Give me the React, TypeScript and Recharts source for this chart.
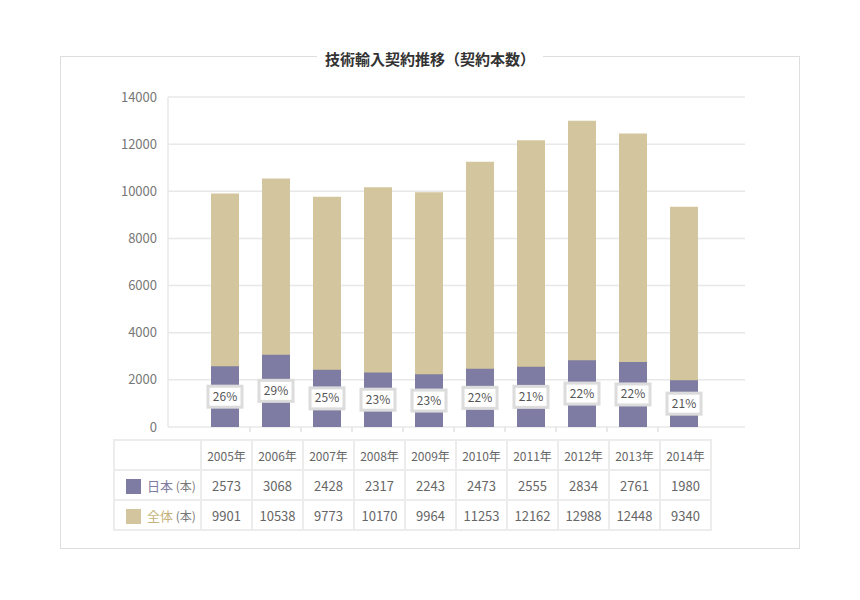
import React from 'react';
import { BarChart, Bar, XAxis, YAxis, CartesianGrid, LabelList } from 'recharts';

const years = ['2005年', '2006年', '2007年', '2008年', '2009年', '2010年', '2011年', '2012年', '2013年', '2014年'];
const japanValues = [2573, 3068, 2428, 2317, 2243, 2473, 2555, 2834, 2761, 1980];
const totalValues = [9901, 10538, 9773, 10170, 9964, 11253, 12162, 12988, 12448, 9340];
const pctLabels = ['26%', '29%', '25%', '23%', '23%', '22%', '21%', '22%', '22%', '21%'];
const yTicks = [0, 2000, 4000, 6000, 8000, 10000, 12000, 14000];

const TITLE = '技術輸入契約推移（契約本数）';
const JAPAN_LABEL = '日本';
const TOTAL_LABEL = '全体';
const UNIT = '(本)';

const PURPLE = '#7e7ca2';
const TAN = '#d3c69e';
const FONT = '"Noto Sans CJK JP", "Noto Sans", sans-serif';

const data = years.map((year, i) => ({
  year,
  japan: japanValues[i],
  total: totalValues[i],
  pct: pctLabels[i],
}));

const PctLabel = (props: any) => {
  const { x, y, width, height, value } = props;
  const cx = x + width / 2;
  const cy = y + height / 2;
  return (
    <g>
      <rect x={cx - 17} y={cy - 10.5} width={34} height={21} fill="#fff" stroke="#dcdcdc" strokeWidth={3} />
      <text x={cx} y={cy + 4} textAnchor="middle" fontSize={12} fill="#555" fontFamily={FONT}>
        {value}
      </text>
    </g>
  );
};

const BoundaryTick = (props: any) => {
  const { x, y, index } = props;
  if (index === 0) return null;
  const step = 51;
  return <line x1={x - step / 2} x2={x - step / 2} y1={y - 8} y2={y - 3} stroke="#e2e2e2" strokeWidth={1.5} />;
};

const cellStyle: React.CSSProperties = {
  border: '2px solid #ececec',
  height: 28,
  padding: 0,
  textAlign: 'center',
  color: '#666',
  fontSize: 12,
  fontFamily: FONT,
  whiteSpace: 'nowrap',
};

export default function App() {
  return (
    <div style={{ position: 'absolute', left: 0, top: 0, width: 860, height: 600, background: '#fff', fontFamily: FONT }}>
      <div
        style={{
          position: 'absolute',
          left: 60,
          top: 56,
          width: 738,
          height: 491,
          border: '1.5px solid #dedede',
        }}
      />
      <div
        style={{
          position: 'absolute',
          left: 0,
          width: 860,
          top: 46,
          textAlign: 'center',
        }}
      >
        <span
          style={{
            background: '#fff',
            padding: '0 8px',
            fontSize: 15,
            fontWeight: 'bold',
            color: '#333',
            lineHeight: '22px',
          }}
        >
          {TITLE}
        </span>
      </div>
      <div style={{ position: 'absolute', left: 0, top: 0 }}>
        <BarChart
          width={860}
          height={600}
          data={data}
          margin={{ top: 97, right: 115, bottom: 153, left: 108 }}
          barSize={28}
        >
          <CartesianGrid vertical={false} stroke="#e8e8e8" strokeWidth={1.5} yAxisId="left" xAxisId="a" />
          <XAxis
            xAxisId="a"
            dataKey="year"
            padding={{ left: 31, right: 36 }}
            axisLine={false}
            tickLine={false}
            tick={<BoundaryTick />}
            height={20}
            interval={0}
          />
          <XAxis xAxisId="b" dataKey="year" padding={{ left: 31, right: 36 }} hide />
          <YAxis
            yAxisId="left"
            domain={[0, 14000]}
            ticks={yTicks}
            width={60}
            axisLine={{ stroke: '#e8e8e8', strokeWidth: 1.5 }}
            tickLine={false}
            tickMargin={5}
            tick={{ fontSize: 13, fill: '#777', fontFamily: FONT }}
            interval={0}
          />
          <YAxis
            yAxisId="right"
            orientation="right"
            domain={[0, 14000]}
            ticks={yTicks}
            width={0}
            axisLine={{ stroke: '#e8e8e8', strokeWidth: 1.5 }}
            tickLine={false}
            tick={false}
          />
          <Bar dataKey="total" xAxisId="b" yAxisId="left" fill={TAN} isAnimationActive={false} />
          <Bar dataKey="japan" xAxisId="a" yAxisId="left" fill={PURPLE} isAnimationActive={false}>
            <LabelList dataKey="pct" content={<PctLabel />} />
          </Bar>
        </BarChart>
      </div>
      <table
        style={{
          position: 'absolute',
          left: 113,
          top: 439,
          width: 597,
          tableLayout: 'fixed',
          borderCollapse: 'collapse',
          background: '#fff',
        }}
      >
        <colgroup>
          <col style={{ width: 87 }} />
          {years.map((y) => (
            <col key={y} style={{ width: 51 }} />
          ))}
        </colgroup>
        <tbody>
          <tr>
            <td style={cellStyle} />
            {years.map((y) => (
              <td key={y} style={cellStyle}>
                {y}
              </td>
            ))}
          </tr>
          <tr>
            <td style={{ ...cellStyle, textAlign: 'left' }}>
              <span style={{ display: 'inline-block', width: 15, height: 15, background: PURPLE, marginLeft: 11, marginRight: 6, verticalAlign: -3 }} />
              <span style={{ color: PURPLE, fontSize: 13 }}>{JAPAN_LABEL}</span>
              <span style={{ color: '#777', fontSize: 12 }}> {UNIT}</span>
            </td>
            {japanValues.map((v, i) => (
              <td key={i} style={{ ...cellStyle, fontSize: 13 }}>
                {v}
              </td>
            ))}
          </tr>
          <tr>
            <td style={{ ...cellStyle, textAlign: 'left' }}>
              <span style={{ display: 'inline-block', width: 15, height: 15, background: TAN, marginLeft: 11, marginRight: 6, verticalAlign: -3 }} />
              <span style={{ color: '#c4b27a', fontSize: 13 }}>{TOTAL_LABEL}</span>
              <span style={{ color: '#777', fontSize: 12 }}> {UNIT}</span>
            </td>
            {totalValues.map((v, i) => (
              <td key={i} style={{ ...cellStyle, fontSize: 13 }}>
                {v}
              </td>
            ))}
          </tr>
        </tbody>
      </table>
    </div>
  );
}
